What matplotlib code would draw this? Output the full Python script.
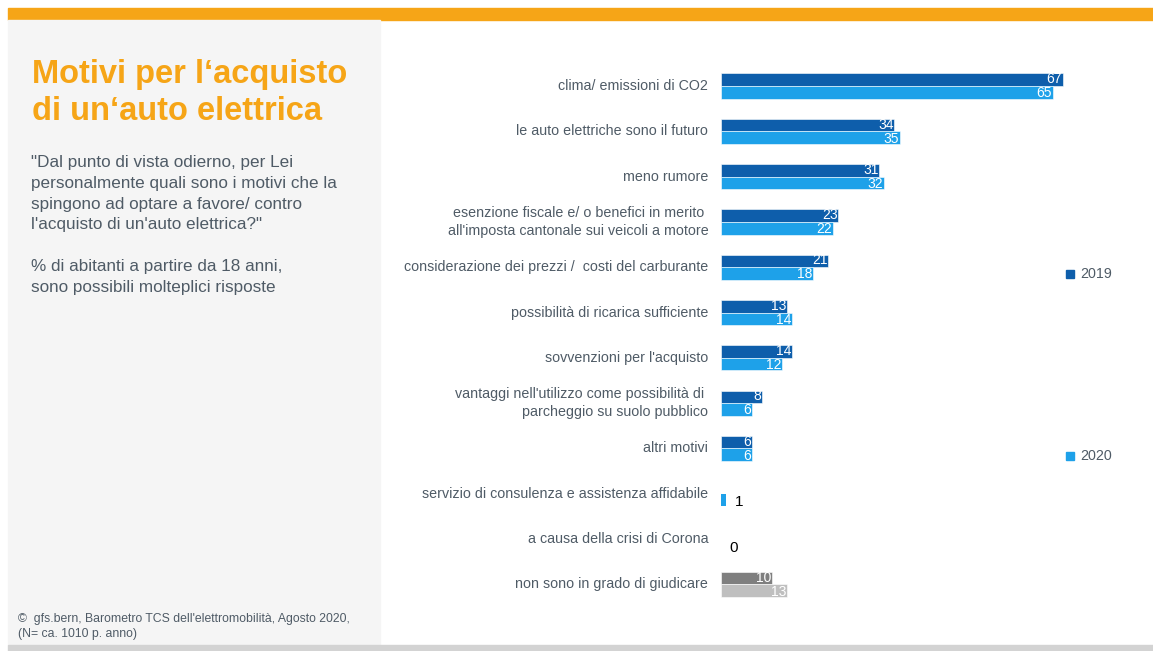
import matplotlib
matplotlib.use("Agg")
import matplotlib.pyplot as plt
import matplotlib.patches as mpatches
import numpy as np

plt.rcParams['font.family'] = ['Liberation Sans', 'DejaVu Sans']

categories = [
    "clima/ emissioni di CO2",
    "le auto elettriche sono il futuro",
    "meno rumore",
    "esenzione fiscale e/ o benefici in merito \nall'imposta cantonale sui veicoli a motore",
    "considerazione dei prezzi /  costi del carburante",
    "possibilità di ricarica sufficiente",
    "sovvenzioni per l'acquisto",
    "vantaggi nell'utilizzo come possibilità di \nparcheggio su suolo pubblico",
    "altri motivi",
    "servizio di consulenza e assistenza affidabile",
    "a causa della crisi di Corona",
    "non sono in grado di giudicare",
]
values_2019 = [67, 34, 31, 23, 21, 13, 14, 8, 6, None, None, 10]
values_2020 = [65, 35, 32, 22, 18, 14, 12, 6, 6, 1, 0, 13]
series_names = ["2019", "2020"]

W, H = 1153, 651
fig = plt.figure(figsize=(W / 100, H / 100), dpi=100)

def fx(px):
    return px / W

def fy(py):
    return 1 - py / H

TXT = "#4F5B66"

# background panels
fig.patches.append(mpatches.Rectangle((fx(8), fy(20)), fx(1153) - fx(8), fy(8) - fy(20),
                                      transform=fig.transFigure, color="#F6A517", zorder=0))
fig.patches.append(mpatches.Rectangle((fx(8), fy(645)), fx(380) - fx(8), fy(20) - fy(645),
                                      transform=fig.transFigure, color="#F5F5F5", zorder=0))
fig.patches.append(mpatches.Rectangle((fx(8), fy(651)), fx(1153) - fx(8), fy(645) - fy(651),
                                      transform=fig.transFigure, color="#D3D3D3", zorder=0))

# title & texts
fig.text(fx(32), fy(83), "Motivi per l‘acquisto", color="#F6A517", fontsize=23.5,
         fontweight="bold", va="baseline", ha="left")
fig.text(fx(32), fy(120), "di un‘auto elettrica", color="#F6A517", fontsize=23.5,
         fontweight="bold", va="baseline", ha="left")

sub_lines = ['"Dal punto di vista odierno, per Lei',
             'personalmente quali sono i motivi che la',
             'spingono ad optare a favore/ contro',
             "l'acquisto di un'auto elettrica?\"",
             '',
             '% di abitanti a partire da 18 anni,',
             'sono possibili molteplici risposte']
for k, line in enumerate(sub_lines):
    fig.text(fx(31), fy(167 + 20.8 * k), line, color=TXT, fontsize=12.3,
             va="baseline", ha="left")

fig.text(fx(18), fy(622), "©  gfs.bern, Barometro TCS dell'elettromobilità, Agosto 2020,",
         color=TXT, fontsize=8.8, va="baseline", ha="left")
fig.text(fx(18), fy(637), "(N= ca. 1010 p. anno)", color=TXT, fontsize=8.8,
         va="baseline", ha="left")

# axes
step = 45.3
c0 = 86
top = c0 - 0.5 * step
bottom = c0 + 11.5 * step
xmax = 70
ax_left = 721
ax_w = xmax * 5.1
ax = fig.add_axes([fx(ax_left), fy(bottom), ax_w / W, (bottom - top) / H])
ax.set_xlim(0, xmax)
ax.set_ylim(11.5, -0.5)
ax.axis("off")

bh = 12.6 / step
n = len(categories)
y = np.arange(n)
c19 = ["#0E5EAB"] * (n - 1) + ["#7F7F7F"]
c20 = ["#1EA1E9"] * (n - 1) + ["#BFBFBF"]
VFS = 10

for i in range(n):
    v1 = values_2019[i]
    v2 = values_2020[i]
    if v1 is not None and v1 > 0:
        ax.barh(y[i] - bh / 2, v1, height=bh, color=c19[i], edgecolor="white", linewidth=0.4)
        ax.text(v1 - 0.15, y[i] - bh / 2 - 0.01, str(v1), color="white", fontsize=VFS,
                ha="right", va="center")
    if v2 is not None:
        if v2 >= 2:
            ax.barh(y[i] + bh / 2, v2, height=bh, color=c20[i], edgecolor="white", linewidth=0.4)
            ax.text(v2 - 0.15, y[i] + bh / 2 + 0.02, str(v2), color="white", fontsize=VFS,
                    ha="right", va="center")
        else:
            if v2 > 0:
                ax.barh(y[i] + bh / 2, v2, height=bh, color=c20[i], edgecolor="none")
            ax.text(v2 + 1.7, y[i] + bh / 2 + 0.05, str(v2), color="black", fontsize=11,
                    ha="left", va="center")
    ax.text(-2.5, y[i], categories[i], color=TXT, fontsize=10.3, ha="right",
            va="center", linespacing=1.35)

# legend
for name, col, py in [(series_names[0], "#0E5EAB", 274), (series_names[1], "#1EA1E9", 456)]:
    fig.patches.append(mpatches.Rectangle((fx(1066), fy(py + 4)), 8 / W, 8 / H,
                                          transform=fig.transFigure, color=col))
    fig.text(fx(1080), fy(py), name, color=TXT, fontsize=10.3, va="center", ha="left")

fig.savefig("out.png", dpi=100)
